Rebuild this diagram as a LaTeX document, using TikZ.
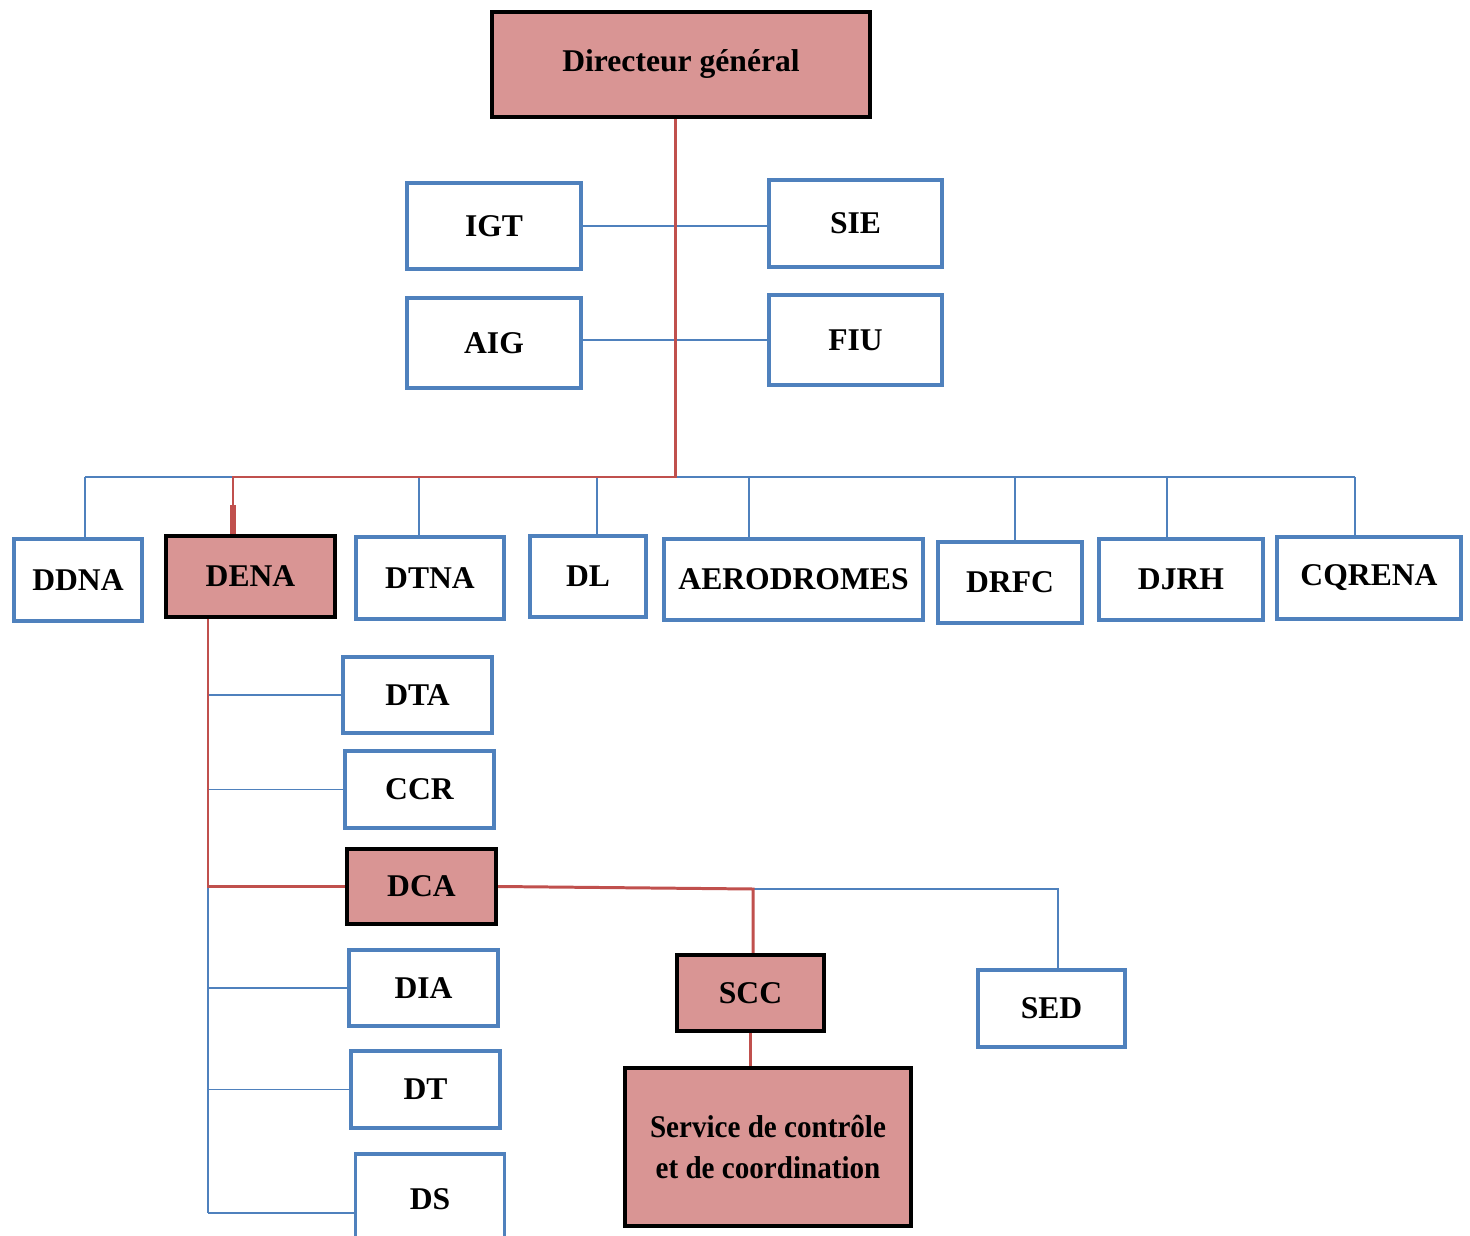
\documentclass[tikz,border=0pt]{standalone}
\usepackage{fontspec}
\setmainfont{Liberation Serif}
\newfontfamily\narrowserif{Liberation Serif}[FakeStretch=0.92]
\usetikzlibrary{calc}

\definecolor{unitpink}{RGB}{217,149,148}
\definecolor{unitblue}{RGB}{79,129,189}
\definecolor{linkred}{RGB}{192,80,77}

\tikzset{
  unitbox/.style={draw=unitblue, line width=2.2pt, fill=white, inner sep=0pt,
    font=\bfseries\fontsize{18}{22}\selectfont},
  keybox/.style={draw=black, line width=2.5pt, fill=unitpink, inner sep=0pt,
    font=\bfseries\fontsize{18}{22}\selectfont},
  blueline/.style={draw=unitblue, line width=0.9pt},
  redline/.style={draw=linkred, line width=1.7pt},
}

\begin{document}
\begin{tikzpicture}[x=0.02cm,y=-0.02cm]
		\useasboundingbox (0,0) rectangle (1470,1236);

		%top
		\node[keybox, minimum width=7.56cm, minimum height=2.1cm] (dg) at (681,64.5) {Directeur général};

		%staff units
		\node[unitbox, minimum width=3.48cm, minimum height=1.72cm] (igt) at (494,226) {IGT};
		\node[unitbox, minimum width=3.46cm, minimum height=1.74cm] (sie) at (855.5,223.5) {SIE};
		\node[unitbox, minimum width=3.48cm, minimum height=1.8cm] (aig) at (494,343) {AIG};
		\node[unitbox, minimum width=3.46cm, minimum height=1.8cm] (fiu) at (855.5,340) {FIU};

		%directions
		\node[unitbox, minimum width=2.56cm, minimum height=1.64cm] (ddna) at (78,580) {DDNA};
		\node[keybox, minimum width=3.38cm, minimum height=1.62cm] (dena) at (250.5,576.5) {DENA};
		\node[unitbox, minimum width=2.96cm, minimum height=1.64cm] (dtna) at (430,578) {DTNA};
		\node[unitbox, minimum width=2.32cm, minimum height=1.62cm] (dl) at (588,576.5) {DL};
		\node[unitbox, minimum width=5.18cm, minimum height=1.62cm] (aero) at (793.5,579.5) {AERODROMES};
		\node[unitbox, minimum width=2.88cm, minimum height=1.62cm] (drfc) at (1010,582.5) {DRFC};
		\node[unitbox, minimum width=3.28cm, minimum height=1.62cm] (djrh) at (1181,579.5) {DJRH};
		\node[unitbox, minimum width=3.68cm, minimum height=1.64cm] (cqrena) at (1369,578) {CQRENA};

		%DENA units
		\node[unitbox, minimum width=2.98cm, minimum height=1.52cm] (dta) at (417.5,695) {DTA};
		\node[unitbox, minimum width=2.98cm, minimum height=1.54cm] (ccr) at (419.5,789.5) {CCR};
		\node[keybox, minimum width=2.98cm, minimum height=1.5cm] (dca) at (421.5,886.5) {DCA};
		\node[unitbox, minimum width=2.98cm, minimum height=1.52cm] (dia) at (423.5,988) {DIA};
		\node[unitbox, minimum width=2.98cm, minimum height=1.54cm] (dt) at (425.5,1089.5) {DT};
		\node[unitbox, minimum width=2.98cm, minimum height=1.8cm] (ds) at (430,1199) {DS};

		%DCA services
		\node[keybox, minimum width=2.94cm, minimum height=1.52cm] (scc) at (750.5,993) {SCC};
		\node[unitbox, minimum width=2.94cm, minimum height=1.54cm] (sed) at (1051.5,1008.5) {SED};
		\node[keybox, minimum width=5.72cm, minimum height=3.16cm, align=center,
		  font=\bfseries\narrowserif\fontsize{18}{23}\selectfont] (svc) at (768,1147)
		  {Service de contrôle\\et de coordination};

		%bus coordinates
		\coordinate (busL) at (85,477);
		\coordinate (busR) at (1355,477);
		\coordinate (busDG) at (675,477);
		\coordinate (busDena) at (233,477);
		\coordinate (denaTrunk) at (208,1213);
		\coordinate (dcaJoin) at (753,889);
		\coordinate (sedJoin) at (1058,889);

		%staff links
		\draw[blueline] (igt.east) -- (igt.east -| sie.west);
		\draw[blueline] (fiu.west -| aig.east) -- (fiu.west);

		%direction bus
		\draw[blueline] (busL) -- (busR);
		\foreach \n/\x in {ddna/85, dtna/419, dl/597, aero/749, drfc/1015, djrh/1167, cqrena/1355}
		  \draw[blueline] (\x,477) -- (\x,477 |- \n.north);

		%DENA links
		\draw[blueline] (dena.south -| denaTrunk) -- (denaTrunk);
		\foreach \n in {dta,ccr,dia,dt}
		  \draw[blueline] (\n.west -| denaTrunk) -- (\n.west);
		\draw[blueline] (denaTrunk) -- (denaTrunk -| ds.west);

		%DCA links
		\draw[blueline] (dcaJoin) -- (sedJoin) -- (sedJoin |- sed.north);

		%red path
		\draw[redline] (busDG |- dg.south) -- (busDG) -- (busDena) -- (busDena |- dena.north);
		\draw[redline, line width=3.4pt] (233,505) -- (busDena |- dena.north);
		\draw[redline] (dena.south -| denaTrunk) -- (denaTrunk |- dca.west) -- (dca.west);
		\draw[redline] (dca.east) -- (dcaJoin) -- (dcaJoin |- scc.north);
		\draw[redline] (scc.south) -- (scc.south |- svc.north);
		\end{tikzpicture}
\end{document}
